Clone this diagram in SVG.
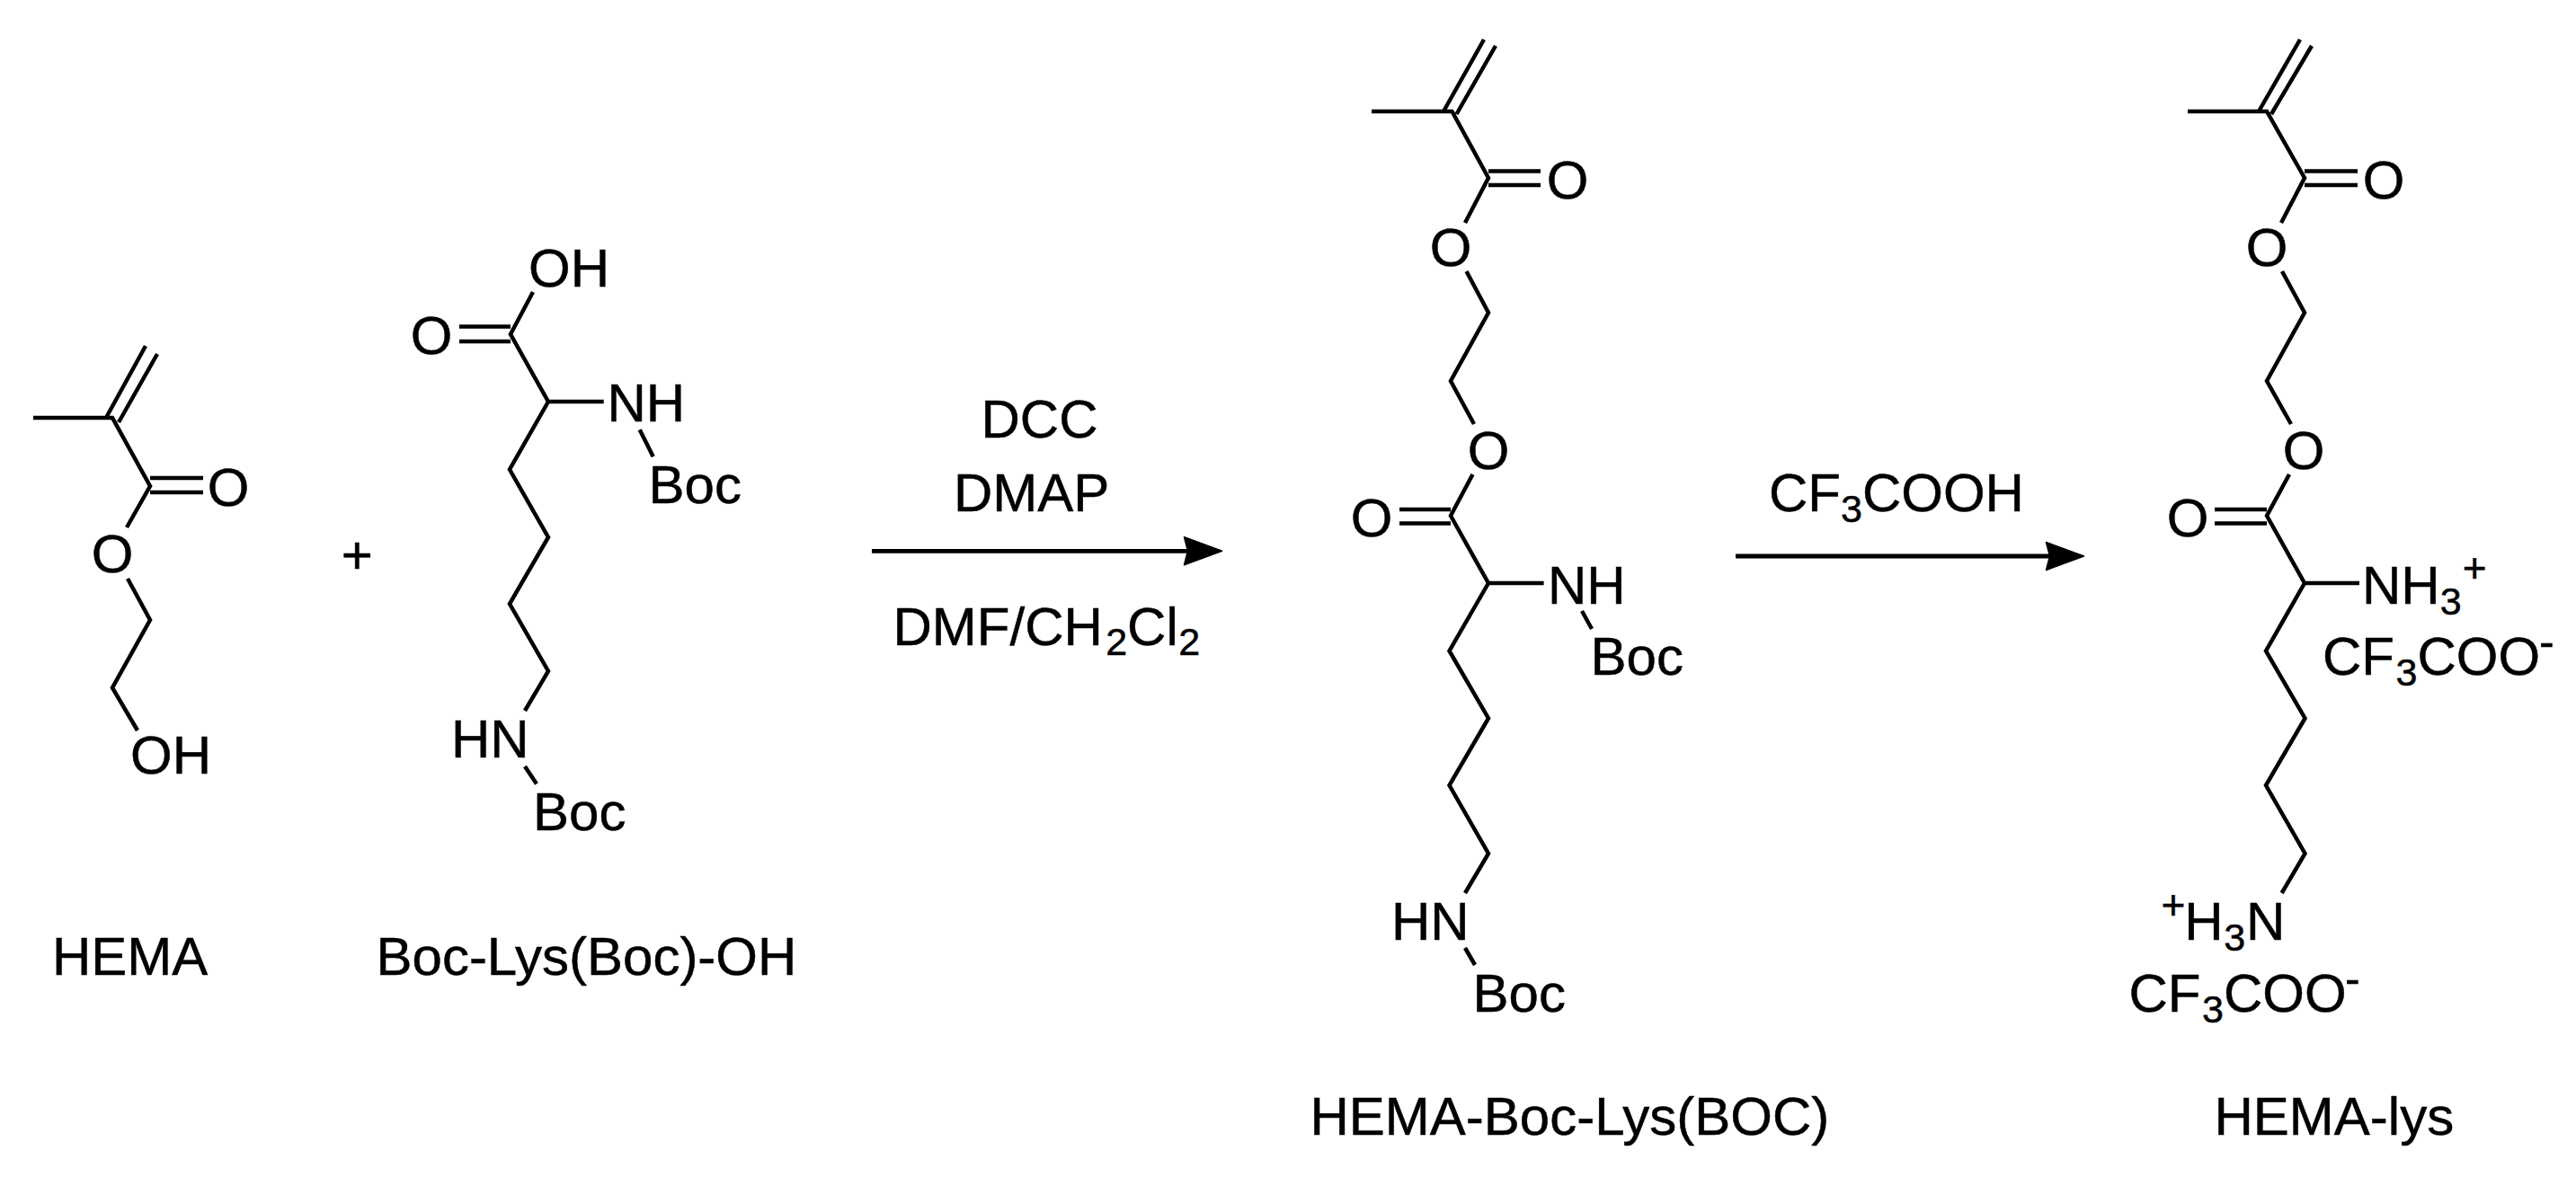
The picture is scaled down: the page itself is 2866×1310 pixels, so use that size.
<svg xmlns="http://www.w3.org/2000/svg" width="2866" height="1310" viewBox="0 0 2866 1310">
<style>
text{font-family:"Liberation Sans",Arial,sans-serif;font-size:60px;fill:#000;stroke:#000;stroke-width:.5px}
.m{text-anchor:middle}
.s{font-size:43px}
.p{font-size:46px}
.c{font-size:50px}
.b{fill:none;stroke:#000;stroke-width:4.5;stroke-linejoin:miter;stroke-linecap:butt}
.a{fill:none;stroke:#000;stroke-width:4.8}
</style>
<defs>
<marker id="head" markerUnits="userSpaceOnUse" markerWidth="46" markerHeight="38" viewBox="0 0 46 38" refX="6" refY="19" orient="auto">
<path d="M2,3.5 L44,19 L2,34.5 L6,19 Z" fill="#000" stroke="#000" stroke-width="1.5" stroke-linejoin="round"/>
</marker>
</defs>
<rect width="2866" height="1310" fill="#fff"/>
<g id="hema">
<path class="b" d="M37,465H125L167,541L141,587M142,644L167,690L125,765.5L153,813M118,465L162,385M132,470L175,394M167,532H226M167,548H226"/>
<text class="m" x="254" y="563">O</text>
<text class="m" x="125" y="637">O</text>
<text x="145" y="861">OH</text>
<text x="58" y="1085">HEMA</text>
</g>
<text id="plus" class="m" x="397.3" y="638">+</text>
<g id="boc-lys">
<path class="b" d="M593,325L568,372L610,447H671.7M610,447L567,522.5L610,598L567,672L610,747L584,791M511,363.5H568M511,380H568M711.7,478.3L726.7,508.3M584,853L597,872.5"/>
<text x="588" y="319">OH</text>
<text class="m" x="480" y="394">O</text>
<text x="675.4" y="469">NH</text>
<text x="721.6" y="560">Boc</text>
<text x="502" y="843">HN</text>
<text x="593" y="924">Boc</text>
<text x="418.5" y="1085">Boc-Lys(Boc)-OH</text>
</g>
<g id="hema-boc-lys">
<path class="b" d="M1526,124H1615.5L1656,198L1630,248M1631.5,302L1656,348L1614,424L1640,472M1638.5,528L1614,574L1656,649H1717.6M1656,649L1612.5,724.5L1656,799.4L1612.5,874L1656,950L1630,994M1606,124L1651,44M1620.5,127L1664,51M1656,190.6H1714M1656,206H1714M1557,567H1614M1557,582.6H1614M1760,680L1771,700M1630,1055L1641,1074"/>
<text class="m" x="1744" y="221">O</text>
<text class="m" x="1614" y="296">O</text>
<text class="m" x="1656" y="522">O</text>
<text class="m" x="1526" y="597">O</text>
<text x="1722" y="671.7">NH</text>
<text x="1769.5" y="750.7">Boc</text>
<text x="1548" y="1046">HN</text>
<text x="1638.5" y="1126">Boc</text>
<text x="1457.5" y="1262.5">HEMA-Boc-Lys(BOC)</text>
</g>
<g id="hema-lys">
<path class="b" d="M2434,124H2522L2564,198L2538,248M2539,302L2564,348L2522,424L2549,472M2547,528L2522,574L2564,649H2625M2564,649L2521,724.5L2564.5,799.4L2521,874L2564.5,950L2538.6,994M2513,124L2559,44M2527,127L2572,51M2564,190.6H2623M2564,206H2623M2464,567H2522M2464,582.6H2522"/>
<text class="m" x="2652" y="221">O</text>
<text class="m" x="2522" y="296">O</text>
<text class="m" x="2563" y="522">O</text>
<text class="m" x="2434" y="597">O</text>
<text x="2628" y="671.7">NH<tspan class="s" dy="12">3</tspan></text>
<text class="p m" x="2753.3" y="647.6">+</text>
<text x="2584" y="750.7">CF<tspan class="s" dx="1.6" dy="12">3</tspan><tspan dy="-12">COO</tspan></text>
<text class="c" x="2825" y="731">-</text>
<text class="p m" x="2418" y="1023">+</text>
<text x="2430.3" y="1046">H<tspan class="s" dx="0.5" dy="12">3</tspan><tspan dx="1" dy="-12">N</tspan></text>
<text x="2368.5" y="1126">CF<tspan class="s" dx="1.6" dy="12">3</tspan><tspan dy="-12">COO</tspan></text>
<text class="c" x="2609" y="1106">-</text>
<text x="2463.5" y="1262.5">HEMA-lys</text>
</g>
<g id="connectors">
<path class="a" d="M970,613.3H1321.5" marker-end="url(#head)"/>
<path class="a" d="M1931,619H2280.5" marker-end="url(#head)"/>
</g>
<g id="labels">
<text x="1091.5" y="487">DCC</text>
<text x="1061" y="568.5">DMAP</text>
<text x="993.5" y="718">DMF/CH<tspan class="s" dx="3.4" dy="11">2</tspan><tspan dy="-11">Cl</tspan><tspan class="s" dx="0.5" dy="11">2</tspan></text>
<text x="1968" y="568.5">CF<tspan class="s" dy="12">3</tspan><tspan dy="-12">COOH</tspan></text>
</g>
</svg>
